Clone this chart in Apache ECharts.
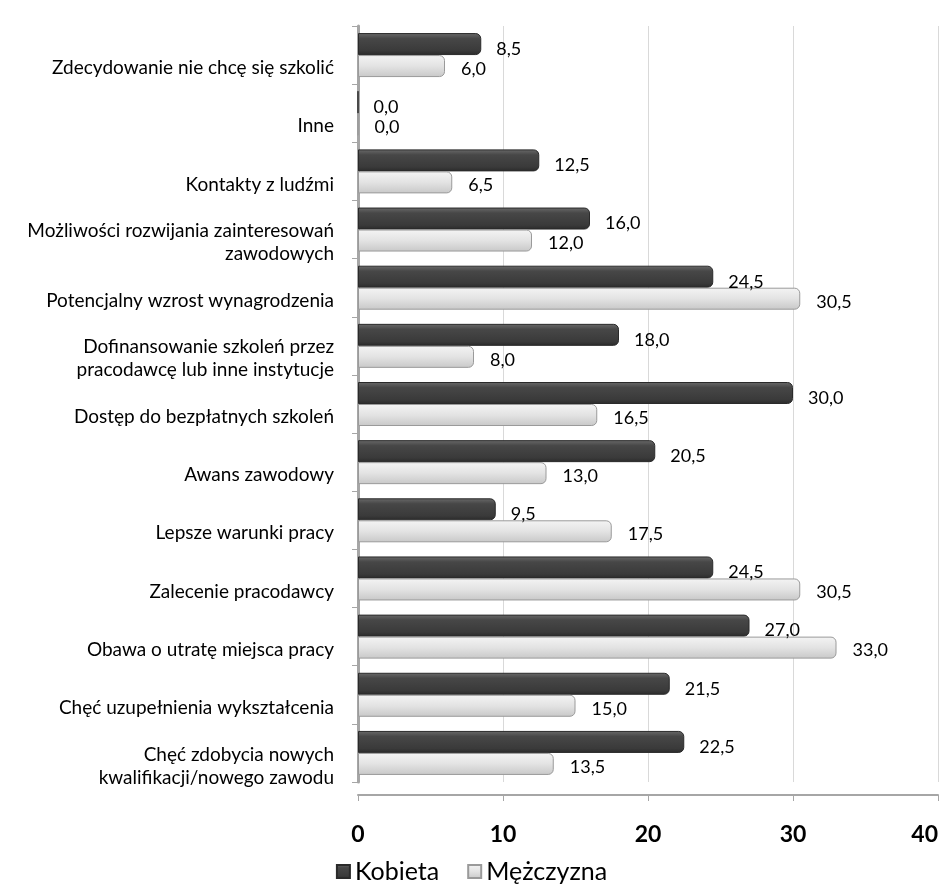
<!DOCTYPE html>
<html>
<head>
<meta charset="utf-8">
<script src="https://cdn.jsdelivr.net/npm/echarts@6/dist/echarts.min.js"></script>
<style>
html,body{margin:0;padding:0;background:#fff;}
#chart{width:943px;height:890px;}
</style>
</head>
<body>
<div id="chart"></div>
<script>
var categories = [
	'Zdecydowanie nie chcę się szkolić',
	'Inne',
	'Kontakty z ludźmi',
	'Możliwości rozwijania zainteresowań\nzawodowych',
	'Potencjalny wzrost wynagrodzenia',
	'Dofinansowanie szkoleń przez\npracodawcę lub inne instytucje',
	'Dostęp do bezpłatnych szkoleń',
	'Awans zawodowy',
	'Lepsze warunki pracy',
	'Zalecenie pracodawcy',
	'Obawa o utratę miejsca pracy',
	'Chęć uzupełnienia wykształcenia',
	'Chęć zdobycia nowych\nkwalifikacji/nowego zawodu'
];
var kobieta = [8.5, 0.0, 12.5, 16.0, 24.5, 18.0, 30.0, 20.5, 9.5, 24.5, 27.0, 21.5, 22.5];
var mezczyzna = [6.0, 0.0, 6.5, 12.0, 30.5, 8.0, 16.5, 13.0, 17.5, 30.5, 33.0, 15.0, 13.5];
var xTicks = [0, 10, 20, 30, 40];

var font = 'Lato, "Open Sans", sans-serif';
function fmt(p){ return p.value.toFixed(1).replace('.', ','); }

var chart = echarts.init(document.getElementById('chart'));
var option = {
	animation: false,
	backgroundColor: '#fff',
	textStyle: {fontFamily: font},
	// grid 0 holds the bars, grid 1 only carries the category labels a bit lower (as in the 3D original)
	grid: [
		{left: 358, right: 5, top: 26, bottom: 108},
		{left: 358, right: 5, top: 39, bottom: 95}
	],
	legend: {
		bottom: 1,
		left: 'center',
		itemWidth: 13, itemHeight: 13, itemGap: 28,
		icon: 'rect',
		textStyle: {fontSize: 25, color: '#000', fontFamily: font},
		data: ['Kobieta', 'Mężczyzna']
	},
	xAxis: [
		{
			type: 'value', gridIndex: 0,
			min: xTicks[0], max: xTicks[xTicks.length - 1], interval: 10,
			offset: 13,
			axisLine: {show: true, lineStyle: {color: '#a6a6a6', width: 2}},
			axisTick: {show: true, length: 6, lineStyle: {color: '#a6a6a6'}},
			axisLabel: {fontSize: 23, fontWeight: 'bold', color: '#000', margin: 28, fontFamily: font, alignMaxLabel: 'right'},
			splitLine: {show: true, lineStyle: {color: '#d9d9d9', width: 1}}
		},
		{type: 'value', gridIndex: 1, min: 0, max: 40, show: false}
	],
	yAxis: [
		{
			type: 'category', gridIndex: 0,
			inverse: true,
			data: categories,
			axisLine: {show: true, lineStyle: {color: '#a6a6a6', width: 3}},
			axisTick: {show: true, length: 6, lineStyle: {color: '#a6a6a6'}},
			axisLabel: {show: false}
		},
		{
			type: 'category', gridIndex: 1,
			inverse: true,
			data: categories,
			axisLine: {show: false},
			axisTick: {show: false},
			splitLine: {show: false},
			axisLabel: {fontSize: 19, color: '#000', margin: 24, lineHeight: 23, align: 'right', fontFamily: font}
		}
	],
	series: [
		{
			name: 'Kobieta', type: 'bar', data: kobieta,
			barWidth: 22, barGap: '0%',
			itemStyle: {
				color: new echarts.graphic.LinearGradient(0, 0, 0, 1, [
					{offset: 0, color: '#6a6a6a'}, {offset: 0.25, color: '#474747'},
					{offset: 0.8, color: '#3a3a3a'}, {offset: 1, color: '#2a2a2a'}
				]),
				borderColor: '#2a2a2a', borderWidth: 1, borderRadius: [0, 5, 5, 0]
			},
			label: {show: true, position: 'right', distance: 15, fontSize: 18, color: '#000', formatter: fmt, offset: [0, 5], fontFamily: font}
		},
		{
			name: 'Mężczyzna', type: 'bar', data: mezczyzna,
			barWidth: 22,
			itemStyle: {
				color: new echarts.graphic.LinearGradient(0, 0, 0, 1, [
					{offset: 0, color: '#f4f4f4'}, {offset: 0.5, color: '#e3e3e3'},
					{offset: 1, color: '#c8c8c8'}
				]),
				borderColor: '#9a9a9a', borderWidth: 1, borderRadius: [0, 5, 5, 0]
			},
			label: {show: true, position: 'right', distance: 16, fontSize: 18, color: '#000', formatter: fmt, offset: [0, 3], fontFamily: font}
		}
	]
};
chart.setOption(option);
</script>
</body>
</html>
